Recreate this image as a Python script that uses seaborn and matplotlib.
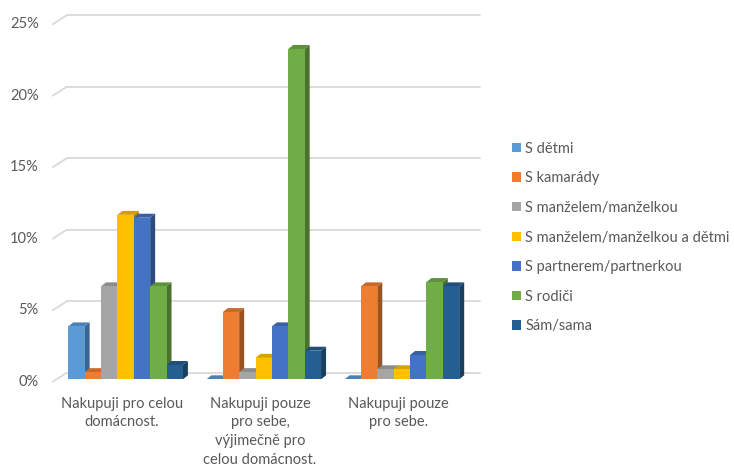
import numpy as np
import pandas as pd
import matplotlib
matplotlib.use("Agg")
import matplotlib.pyplot as plt
import seaborn as sns
from matplotlib.transforms import ScaledTranslation, IdentityTransform
from matplotlib.patches import Polygon, Patch
from matplotlib.lines import Line2D

# --- data (percent of respondents) ---
categories = ["Nakupuji pro celou\ndomácnost.",
              "Nakupuji pouze\npro sebe,\nvýjimečně pro\ncelou domácnost.",
              "Nakupuji pouze\npro sebe."]
series = ["S dětmi", "S kamarády", "S manželem/manželkou",
          "S manželem/manželkou a dětmi", "S partnerem/partnerkou",
          "S rodiči", "Sám/sama"]
s_detmi = [3.7, 0.0, 0.0]
s_kamarady = [0.5, 4.7, 6.5]
s_manzelem = [6.5, 0.5, 0.7]
s_manzelem_detmi = [11.5, 1.5, 0.7]
s_partnerem = [11.3, 3.7, 1.7]
s_rodici = [6.5, 23.1, 6.8]
sam_sama = [1.0, 2.0, 6.5]
yticks = [0, 5, 10, 15, 20, 25]
ytick_labels = ["0%", "5%", "10%", "15%", "20%", "25%"]
colors = ["#5B9BD5", "#ED7D31", "#A5A5A5", "#FFC000",
          "#4472C4", "#70AD47", "#255E91"]

values = [s_detmi, s_kamarady, s_manzelem, s_manzelem_detmi,
          s_partnerem, s_rodici, sam_sama]
df = pd.DataFrame(
    [(c, s, v[i]) for s, v in zip(series, values) for i, c in enumerate(categories)],
    columns=["kategorie", "soužití", "podíl"])

TEXT = "#595959"
GRID = "#D9D9D9"
sns.set_theme(style="white")
plt.rcParams["font.family"] = ["Lato", "DejaVu Sans"]

DPI = 100
fig = plt.figure(figsize=(7.34, 4.68), dpi=DPI)
ax = fig.add_axes([0.077, 0.1895, 0.5627, 0.7639])

sns.barplot(data=df, x="kategorie", y="podíl", hue="soužití",
            order=categories, hue_order=series, palette=colors,
            saturation=1, width=0.83, linewidth=0, ax=ax, legend=False,
            errorbar=None)

ax.set_xlim(-0.5, 2.49)
ax.set_ylim(0, 25)
for s in ax.spines.values():
    s.set_visible(False)
ax.set_xticks([])
ax.set_yticks([])
ax.set_xlabel("")
ax.set_ylabel("")
ax.patch.set_alpha(0)

def shift(dx, dy):
    """Pixel offset added after the data transform."""
    return ScaledTranslation(dx / DPI, dy / DPI, fig.dpi_scale_trans)

back = (10.3, 6.6)     # back wall relative to the bar plane
front = (-3.7, -2.4)   # front floor edge relative to the bar plane
depth = (5.0, 4.0)     # bar depth

x0, x1 = ax.get_xlim()
# back-wall gridlines and short slanted left-wall ticks
for yv, lab in zip(yticks, ytick_labels):
    ax.plot([x0, x1], [yv, yv], color=GRID, lw=1.3, zorder=1,
            transform=ax.transData + shift(*back), clip_on=False)
    px, py = ax.transData.transform((x0, yv))
    fig.add_artist(Line2D([px + front[0], px + back[0]],
                          [py + front[1], py + back[1]],
                          color=GRID, lw=1.3, transform=IdentityTransform()))
    ax.text(x0, yv, lab, ha="right", va="center", fontsize=10.5, color=TEXT,
            transform=ax.transData + shift(front[0] - 14, front[1]))

# category labels under the front floor edge
for i, c in enumerate(categories):
    ax.text(i, 0, c, ha="center", va="top", fontsize=10.5, color=TEXT,
            linespacing=1.42, multialignment="center",
            transform=ax.transData + shift(front[0], -17.5))

# give each bar a top and a right side face
def darker(col, f):
    r, g, b = matplotlib.colors.to_rgb(col)
    return (r * f, g * f, b * f)

bars = sorted([p for p in ax.patches if isinstance(p, matplotlib.patches.Rectangle)],
              key=lambda p: p.get_x())
dx, dy = depth
for k, p in enumerate(bars):
    x, w, h = p.get_x(), p.get_width(), p.get_height()
    col = p.get_facecolor()
    z = 3 + k * 0.01
    p.set_zorder(z + 0.005)
    (xa, ya) = ax.transData.transform((x, h))
    (xb, yb) = ax.transData.transform((x + w, h))
    (xc, yc) = ax.transData.transform((x + w, 0))
    side = Polygon([(xc, yc), (xb, yb), (xb + dx, yb + dy), (xc + dx, yc + dy)],
                   closed=True, facecolor=darker(col, 0.66), edgecolor="none",
                   transform=IdentityTransform(), zorder=z)
    top = Polygon([(xa, ya), (xb, yb), (xb + dx, yb + dy), (xa + dx, ya + dy)],
                  closed=True, facecolor=darker(col, 0.84), edgecolor="none",
                  transform=IdentityTransform(), zorder=z + 0.002)
    ax.add_artist(side)
    ax.add_artist(top)

# legend
handles = [Patch(facecolor=c, edgecolor="none") for c in colors]
fig.legend(handles, series, loc="center left", bbox_to_anchor=(0.698, 0.4925),
           frameon=False, fontsize=10.5, labelcolor=TEXT, handlelength=0.62,
           handleheight=0.62, handletextpad=0.26, labelspacing=1.07,
           borderaxespad=0, borderpad=0)

fig.savefig("out.png", dpi=DPI, facecolor="white")
